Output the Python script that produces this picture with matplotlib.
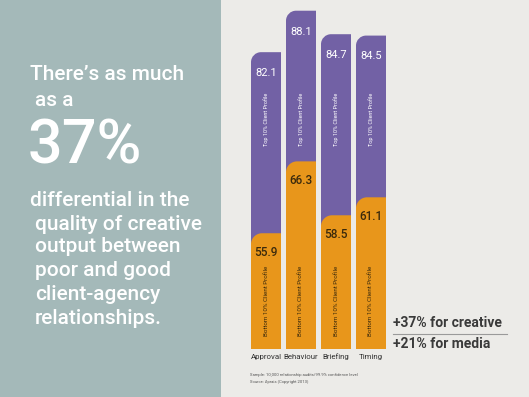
import matplotlib
matplotlib.use("Agg")
import matplotlib.pyplot as plt
from matplotlib import font_manager
from matplotlib.patches import Rectangle, PathPatch
from matplotlib.path import Path
from matplotlib.lines import Line2D
import matplotlib.transforms as mtransforms

# data
categories = ["Approval", "Behaviour", "Briefing", "Timing"]
top10 = [82.1, 88.1, 84.7, 84.5]
bottom10 = [55.9, 66.3, 58.5, 61.1]
top_label = "Top 10% Client Profile"
bottom_label = "Bottom 10% Client Profile"

purple = "#7261a5"
orange = "#e8961b"
panel = "#a4b9b9"
bg = "#ecebe8"

W, H = 529, 397
fig = plt.figure(figsize=(W / 100, H / 100), dpi=100, facecolor=bg)

def fx(x):
    return x / W

def fy(y):
    return 1 - y / H

font = ["Roboto", "DejaVu Sans"]
names = {f.name for f in font_manager.fontManager.ttflist}
narrow = ["Liberation Sans Narrow", "DejaVu Sans"] if "Liberation Sans Narrow" in names else font

# left panel
fig.patches.append(Rectangle((0, 0), fx(221), 1, transform=fig.transFigure,
                             facecolor=panel, edgecolor="none", zorder=0))

lines = [("There\u2019s as much", 30, 75), ("as a", 35, 101)]
for s, x, y in lines:
    fig.text(fx(x), fy(y), s, color="white", fontsize=15, family=font,
             fontweight="medium", va="center", ha="left")
fig.text(fx(28), fy(146), "37%", color="white", fontsize=44, family=font,
         fontweight="medium", va="center", ha="left")
body = [("differential in the", 30, 200), ("quality of creative", 35, 224),
        ("output between", 35, 247), ("poor and good", 35, 270),
        ("client-agency", 35, 294), ("relationships.", 35, 318)]
for s, x, y in body:
    fig.text(fx(x), fy(y), s, color="white", fontsize=15, family=font,
             fontweight="medium", va="center", ha="left")

# chart
ax = fig.add_axes([fx(245), fy(349), fx(147), 349 / H])
ax.set_xlim(-0.6, 3.6)
ax.set_ylim(39.15, 89.65)
ax.patch.set_alpha(0)
for sp in ax.spines.values():
    sp.set_visible(False)
ax.set_yticks([])
ax.set_xticks(range(len(categories)))
ax.set_xticklabels(categories, fontsize=5.7, color="#333333", family=narrow)
for lab in ax.get_xticklabels():
    lab.set_verticalalignment("baseline")
ax.tick_params(axis="x", length=0, pad=7.5)

# px -> data scale
p0 = ax.transData.transform((0, 50))
p1 = ax.transData.transform((1, 60))
sx = p1[0] - p0[0]
sy = (p1[1] - p0[1]) / 10

def rounded_bar(x, top, color, width=0.857, r=10):
    x0, x1 = x - width / 2, x + width / 2
    b = 0
    rx, ry = r / sx, r / sy
    k = 0.5523
    verts = [(x0, b), (x1, b), (x1, top), (x0 + rx, top),
             (x0 + rx * (1 - k), top), (x0, top - ry * (1 - k)), (x0, top - ry),
             (x0, b)]
    codes = [Path.MOVETO, Path.LINETO, Path.LINETO, Path.LINETO,
             Path.CURVE4, Path.CURVE4, Path.CURVE4, Path.CLOSEPOLY]
    ax.add_patch(PathPatch(Path(verts, codes), facecolor=color,
                           edgecolor="none"))

blend = mtransforms.blended_transform_factory(ax.transData, ax.transAxes)
for i, (t, b) in enumerate(zip(top10, bottom10)):
    rounded_bar(i, t, purple)
    rounded_bar(i, b, orange, r=11)
    ax.annotate(f"{t}", (i, t), xytext=(0, -15), textcoords="offset points",
                ha="center", va="center", color="white", fontsize=8,
                family=font)
    ax.annotate(f"{b}", (i, b), xytext=(0, -14), textcoords="offset points",
                ha="center", va="center", color="#3b2a0c", fontsize=8.5,
                family=font, fontweight="medium")
    ax.text(i, 0.659, top_label, transform=blend, rotation=90, ha="center",
            va="center", color="white", fontsize=4, family=narrow)
    ax.text(i, 0.1375, bottom_label, transform=blend, rotation=90,
            ha="center", va="center", color="#3b2a0c", fontsize=4.5,
            family=narrow)

# right notes
fig.text(fx(393), fy(323), "+37% for creative", color="#3a3a3a", fontsize=10,
         family=font, fontweight="semibold", va="center", ha="left")
fig.lines.append(Line2D([fx(393), fx(507)], [fy(334), fy(334)],
                        transform=fig.transFigure, color="#9a9a9a", lw=0.8))
fig.text(fx(393), fy(344), "+21% for media", color="#3a3a3a", fontsize=10,
         family=font, fontweight="semibold", va="center", ha="left")

# footnote
fig.text(fx(250), fy(375), "Sample: 10,000 relationship audits/99.9% confidence level",
         color="#555555", fontsize=3, family=narrow, va="center", ha="left")
fig.text(fx(250), fy(382), "Source: Aprais (Copyright 2013)",
         color="#555555", fontsize=3, family=narrow, va="center", ha="left")

fig.savefig("out.png", dpi=100, facecolor=bg)
